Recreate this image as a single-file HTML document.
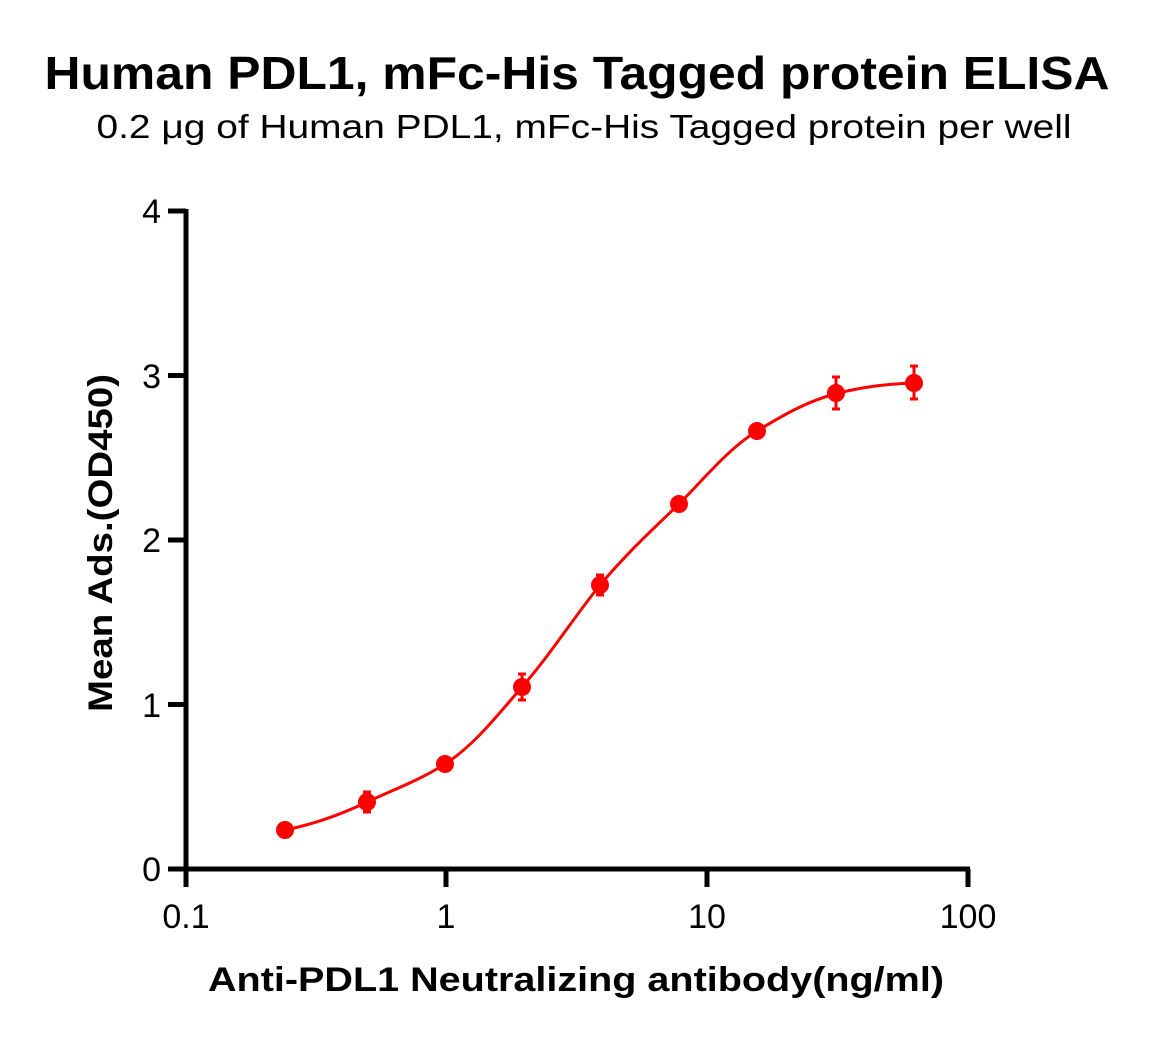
<!DOCTYPE html>
<html><head><style>html,body{margin:0;padding:0;background:#fff}svg{display:block}</style></head>
<body>
<svg width="1155" height="1041" xmlns="http://www.w3.org/2000/svg" font-family="Liberation Sans, Arial, sans-serif">
<text x="577" y="89" font-size="46" font-weight="bold" text-anchor="middle" textLength="1065" lengthAdjust="spacingAndGlyphs">Human PDL1,  mFc-His Tagged protein ELISA</text>
<text x="584" y="138" font-size="33" text-anchor="middle" textLength="975" lengthAdjust="spacingAndGlyphs">0.2 μg of Human PDL1, mFc-His Tagged protein per well</text>
<g stroke="#000" stroke-width="5" fill="none">
<line x1="186" y1="209" x2="186" y2="871"/>
<line x1="168" y1="869" x2="970" y2="869"/>
<line x1="168" y1="211" x2="186" y2="211"/>
<line x1="168" y1="375.5" x2="186" y2="375.5"/>
<line x1="168" y1="540" x2="186" y2="540"/>
<line x1="168" y1="704.5" x2="186" y2="704.5"/>
<line x1="186" y1="869" x2="186" y2="887"/>
<line x1="446" y1="869" x2="446" y2="887"/>
<line x1="707" y1="869" x2="707" y2="887"/>
<line x1="968" y1="869" x2="968" y2="887"/>
</g>
<g font-size="34" text-anchor="end">
<text x="161" y="223">4</text>
<text x="161" y="388">3</text>
<text x="161" y="552">2</text>
<text x="161" y="717">1</text>
<text x="161" y="881">0</text>
</g>
<g font-size="34" text-anchor="middle">
<text x="186" y="928">0.1</text>
<text x="446" y="928">1</text>
<text x="707" y="928">10</text>
<text x="968" y="928">100</text>
</g>
<text x="576" y="991" font-size="34" font-weight="bold" text-anchor="middle" textLength="736" lengthAdjust="spacingAndGlyphs">Anti-PDL1 Neutralizing antibody(ng/ml)</text>
<text transform="translate(112,543) rotate(-90)" font-size="34" font-weight="bold" text-anchor="middle" textLength="338" lengthAdjust="spacingAndGlyphs">Mean Ads.(OD450)</text>
<path d="M285,830 C315,824 340,815 367,802 C395,789 420,780 445,764 C475,745 500,712 522,687 C550,655 572,620 600,585 C628,552 652,530 679,504 C705,478 728,449 757,431 C785,414 808,401 835,394 C865,386 890,384 913,383" stroke="#f00" stroke-width="3" fill="none"/>
<g stroke="#f00" stroke-width="3">
<line x1="367" y1="792" x2="367" y2="812"/><line x1="363" y1="792" x2="371" y2="792"/><line x1="363" y1="812" x2="371" y2="812"/>
<line x1="522" y1="674" x2="522" y2="700"/><line x1="518" y1="674" x2="526" y2="674"/><line x1="518" y1="700" x2="526" y2="700"/>
<line x1="600" y1="575" x2="600" y2="595"/><line x1="596" y1="575" x2="604" y2="575"/><line x1="596" y1="595" x2="604" y2="595"/>
<line x1="836" y1="377" x2="836" y2="409"/><line x1="832" y1="377" x2="840" y2="377"/><line x1="832" y1="409" x2="840" y2="409"/>
<line x1="914" y1="366" x2="914" y2="399"/><line x1="910" y1="366" x2="918" y2="366"/><line x1="910" y1="399" x2="918" y2="399"/>
</g>
<g fill="#f00">
<circle cx="285" cy="830" r="9"/>
<circle cx="367" cy="802" r="9"/>
<circle cx="445" cy="764" r="9"/>
<circle cx="522" cy="687" r="9"/>
<circle cx="600" cy="585" r="9"/>
<circle cx="679" cy="504" r="9"/>
<circle cx="757" cy="431" r="9"/>
<circle cx="836" cy="393" r="9"/>
<circle cx="914" cy="383" r="9"/>
</g>
</svg>
</body></html>
